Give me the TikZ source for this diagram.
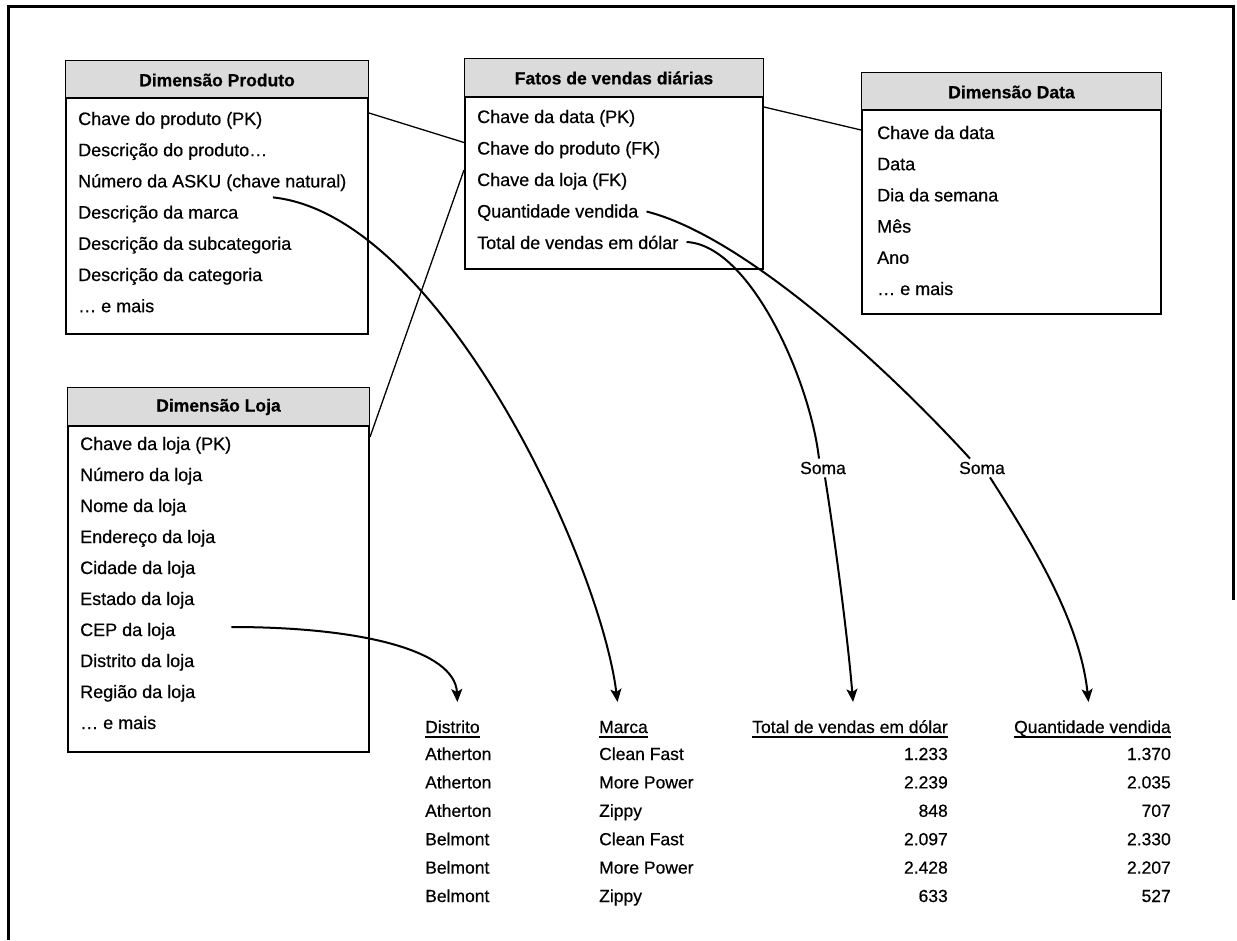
\documentclass[tikz,border=0pt]{standalone}
\usepackage{fontspec}
\setmainfont{Liberation Sans}[FakeBold=0.5]
\usetikzlibrary{arrows.meta,calc}
\begin{document}
\begin{tikzpicture}[x=1pt,y=-1pt,
  every node/.style={inner sep=0pt},
  rowtext/.style={anchor=base west, font=\fontsize{18}{20}\selectfont},
  headtext/.style={font=\bfseries\fontsize{17.5}{20}\selectfont},
  cell/.style={font=\fontsize{17.5}{20}\selectfont},
  tablebox/.style={draw, line width=2pt, anchor=north west},
  headfill/.style={fill=black!14},
  headrule/.style={line width=2.4pt},
  frameline/.style={line width=3pt},
  link/.style={line width=1.3pt},
  flow/.style={line width=2pt},
  flowarrow/.style={line width=2pt, -{Stealth[length=13pt,width=11pt,inset=3pt]}},
  uline/.style={line width=1.4pt},
  somalabel/.style={font=\fontsize{17.5}{20}\selectfont, inner sep=3pt}
]
\useasboundingbox (0,0) rectangle (1237,940);

% page frame
\draw[frameline] (8,940) -- (8,6) -- (1233,6) -- (1233,600);

% ---------- Dimensão Produto ----------
\node[tablebox, minimum width=302pt, minimum height=273pt] (prod) at (65,60) {};
\fill[headfill] ($(prod.north west)+(1,1)$) rectangle ($(prod.north east)+(-1,38)$);
\draw[headrule] ($(prod.north west)+(0,38)$) -- ($(prod.north east)+(0,38)$);
\node[headtext] (prodtitle) at ($(prod.north)+(0,20)$) {Dimensão Produto};
\foreach \t [count=\i] in {Chave do produto (PK),Descrição do produto…,Número da ASKU (chave natural),Descrição da marca,Descrição da subcategoria,Descrição da categoria,… e mais}
  \node[rowtext] (p\i) at (78,{93.8+31.2*\i}) {\t};

% ---------- Fatos de vendas diárias ----------
\node[tablebox, minimum width=298pt, minimum height=210pt] (fat) at (464,58) {};
\fill[headfill] ($(fat.north west)+(1,1)$) rectangle ($(fat.north east)+(-1,39)$);
\draw[headrule] ($(fat.north west)+(0,39)$) -- ($(fat.north east)+(0,39)$);
\node[headtext] (fattitle) at ($(fat.north)+(0,20)$) {Fatos de vendas diárias};
\foreach \t [count=\i] in {Chave da data (PK),Chave do produto (FK),Chave da loja (FK),Quantidade vendida,Total de vendas em dólar}
  \node[rowtext] (f\i) at (477,{91.5+31.5*\i}) {\t};

% ---------- Dimensão Data ----------
\node[tablebox, minimum width=299pt, minimum height=241pt] (dat) at (861,72) {};
\fill[headfill] ($(dat.north west)+(1,1)$) rectangle ($(dat.north east)+(-1,38)$);
\draw[headrule] ($(dat.north west)+(0,38)$) -- ($(dat.north east)+(0,38)$);
\node[headtext] (dattitle) at ($(dat.north)+(0,20)$) {Dimensão Data};
\foreach \t [count=\i] in {Chave da data,Data,Dia da semana,Mês,Ano,… e mais}
  \node[rowtext] (d\i) at (877,{107.8+31.2*\i}) {\t};

% ---------- Dimensão Loja ----------
\node[tablebox, minimum width=301pt, minimum height=364pt] (loja) at (67,387) {};
\fill[headfill] ($(loja.north west)+(1,1)$) rectangle ($(loja.north east)+(-1,39)$);
\draw[headrule] ($(loja.north west)+(0,39)$) -- ($(loja.north east)+(0,39)$);
\node[headtext] (lojatitle) at ($(loja.north)+(0,20)$) {Dimensão Loja};
\foreach \t [count=\i] in {Chave da loja (PK),Número da loja,Nome da loja,Endereço da loja,Cidade da loja,Estado da loja,CEP da loja,Distrito da loja,Região da loja,… e mais}
  \node[rowtext] (l\i) at (80,{419+31*\i}) {\t};

% ---------- key links ----------
\draw[link] ($(prod.east |- p1.base)+(0,-12)$) -- ($(fat.west |- f2.base)+(0,-12)$);
\draw[link] ($(fat.east |- f1.base)+(0,-16)$) -- ($(dat.west |- d1.base)+(0,-9)$);
\draw[link] ($(loja.east |- l1.base)+(0,-13)$) -- ($(fat.west |- f3.base)+(0,-16)$);

% ---------- result table ----------
\node[cell, anchor=base west] (hD) at (425,733) {Distrito};
\node[cell, anchor=base west] (hM) at (599,733) {Marca};
\node[cell, anchor=base east] (hT) at (948,733) {Total de vendas em dólar};
\node[cell, anchor=base east] (hQ) at (1171,733) {Quantidade vendida};
\foreach \h in {hD,hM,hT,hQ}
  \draw[uline] ($(\h.base west)+(0,4)$) -- ($(\h.base east)+(0,4)$);

\foreach \t [count=\i] in {Atherton,Atherton,Atherton,Belmont,Belmont,Belmont}
  \node[cell, anchor=base west] (dist\i) at (425,{731.6+28.4*\i}) {\t};
\foreach \t [count=\i] in {Clean Fast,More Power,Zippy,Clean Fast,More Power,Zippy}
  \node[cell, anchor=base west] (marca\i) at (599,{731.6+28.4*\i}) {\t};
\foreach \t [count=\i] in {1.233,2.239,848,2.097,2.428,633}
  \node[cell, anchor=base east] (total\i) at (948,{731.6+28.4*\i}) {\t};
\foreach \t [count=\i] in {1.370,2.035,707,2.330,2.207,527}
  \node[cell, anchor=base east] (qtd\i) at (1171,{731.6+28.4*\i}) {\t};

% ---------- roll-up arrows ----------
\coordinate (tipD) at ($(hD.base)+(5,-31)$);
\coordinate (tipM) at ($(hM.base)+(-6,-31)$);
\coordinate (tipT) at ($(hT.base)+(3,-31)$);
\coordinate (tipQ) at ($(hQ.base)+(-4,-31)$);

\coordinate (askuStart) at ($(p3.base west)+(195,10)$);
\coordinate (cepStart) at ($(l7.base east)+(56,-9)$);
\coordinate (qtdStart) at ($(f4.base east)+(8,-6)$);
\coordinate (totStart) at ($(f5.base east)+(8,-7)$);

\node[somalabel] (somaT) at (823,468) {Soma};
\node[somalabel] (somaQ) at (982,468) {Soma};

\draw[flowarrow] (askuStart) .. controls (440,215) and (600,560) .. (tipM);
\draw[flowarrow] (cepStart) .. controls (360,627) and (455,650) .. (tipD);

\draw[flow] (totStart) .. controls (750,245) and (810,380) .. ($(somaT.north)+(-4,0)$);
\draw[flowarrow] ($(somaT.south)+(2,0)$) .. controls (835,540) and (848,640) .. (tipT);

\draw[flow] (qtdStart) .. controls (740,235) and (880,360) .. ($(somaQ.north)+(-12,0)$);
\draw[flowarrow] ($(somaQ.south)+(8,0)$) .. controls (1030,540) and (1080,620) .. (tipQ);
\end{tikzpicture}
\end{document}
